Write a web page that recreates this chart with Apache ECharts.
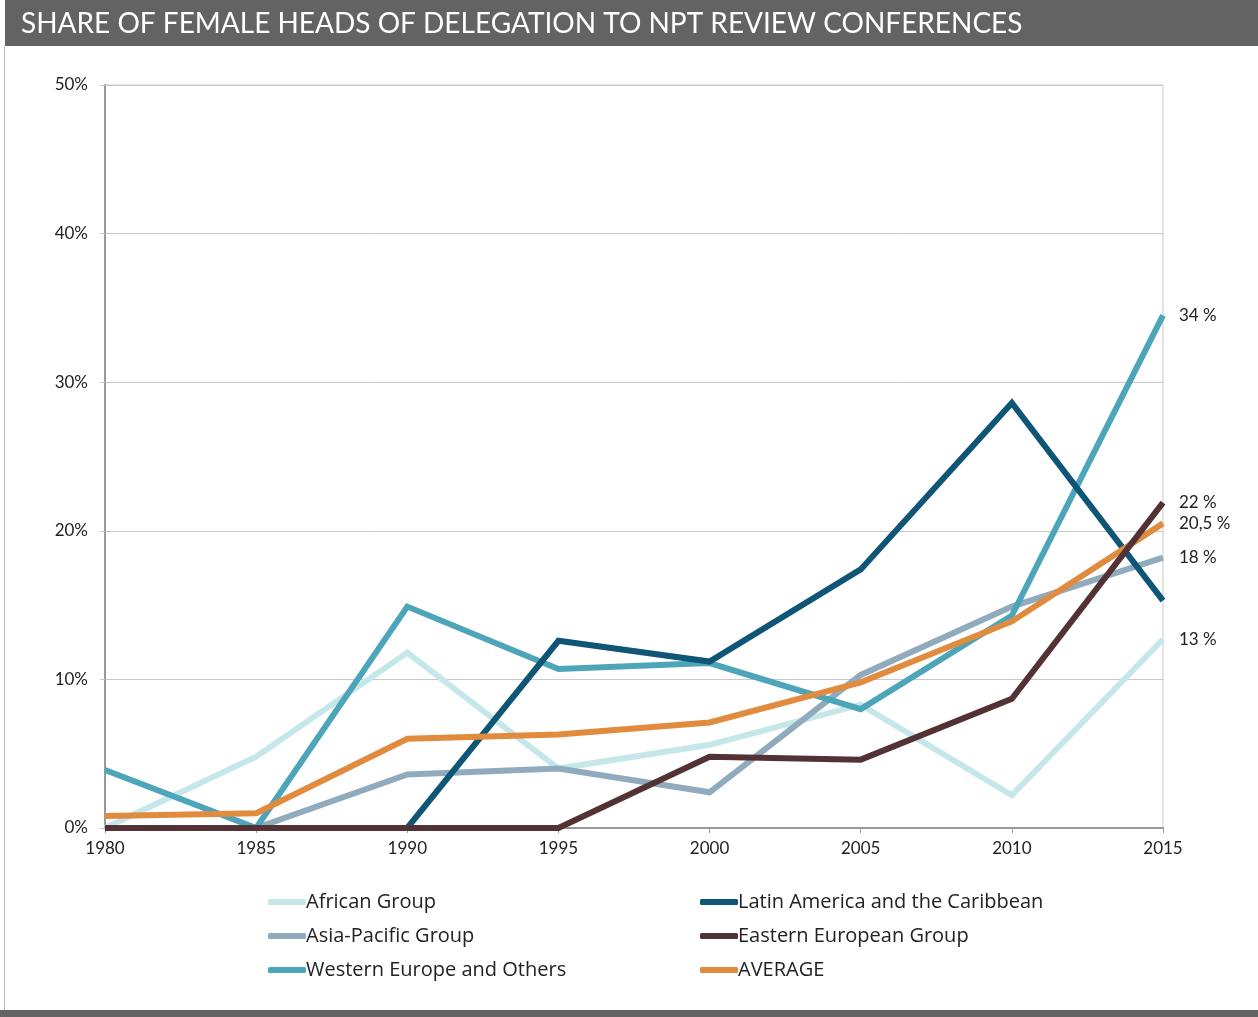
<!DOCTYPE html>
<html>
<head>
    <meta charset="UTF-8">
    <title>Share of female heads of delegation</title>
    <script src="https://cdn.jsdelivr.net/npm/echarts@6/dist/echarts.min.js"></script>
    <style>
        html, body {margin: 0; padding: 0; background: #fff;}
        #main {width: 1258px; height: 1017px;}
    </style>
</head>
<body>
<div id="main"></div>
<script type="text/javascript">
    var years = ['1980', '1985', '1990', '1995', '2000', '2005', '2010', '2015'];
    var african = [0, 4.8, 11.8, 4.0, 5.6, 8.3, 2.2, 12.7];
    var latinAmerica = [0, 0, 0, 12.6, 11.2, 17.4, 28.6, 15.3];
    var asiaPacific = [0, 0, 3.6, 4.0, 2.4, 10.3, 14.9, 18.2];
    var easternEurope = [0, 0, 0, 0, 4.8, 4.6, 8.7, 21.9];
    var westernEurope = [3.9, 0, 14.9, 10.7, 11.1, 8.0, 14.3, 34.5];
    var average = [0.8, 1.0, 6.0, 6.3, 7.1, 9.8, 13.9, 20.5];
    // labels printed at the right end of some lines
    var endText = {
        'African Group': '13 %',
        'Asia-Pacific Group': '18 %',
        'Eastern European Group': '22 %',
        'Western Europe and Others': '34 %',
        'AVERAGE': '20,5 %'
    };

    var font = 'Lato, "Open Sans", sans-serif';
    var legendFont = '"Open Sans", Lato, sans-serif';

    function line(name, data, color) {
        var s = {
            name: name,
            type: 'line',
            data: data,
            symbol: 'none',
            lineStyle: {width: 6, color: color, cap: 'butt', join: 'miter'},
            itemStyle: {color: color},
            emphasis: {disabled: true}
        };
        if (endText[name]) {
            s.endLabel = {
                show: true,
                formatter: endText[name],
                distance: 16,
                color: '#222',
                fontSize: 17,
                fontFamily: font
            };
        }
        return s;
    }

    var myChart = echarts.init(document.getElementById('main'));
    myChart.setOption({
        animation: false,
        title: {
            text: 'SHARE OF FEMALE HEADS OF DELEGATION TO NPT REVIEW CONFERENCES',
            left: 16,
            top: 5,
            textStyle: {color: '#fff', fontSize: 28, fontWeight: 'normal', fontFamily: font}
        },
        graphic: [
            {type: 'rect', z: -1, shape: {x: 5, y: 0, width: 1253, height: 46}, style: {fill: '#636363'}},
            {type: 'rect', z: -1, shape: {x: 0, y: 1010, width: 1258, height: 7}, style: {fill: '#636363'}},
            {type: 'rect', z: -1, shape: {x: 4, y: 46, width: 1, height: 964}, style: {fill: '#bdbdbd'}}
        ],
        grid: {
            left: 105, right: 95, top: 85, bottom: 189,
            show: true, borderColor: '#c8c8c8', borderWidth: 1
        },
        legend: [{
            orient: 'vertical',
            left: 263,
            top: 887,
            itemWidth: 38,
            itemHeight: 6,
            itemGap: 14,
            icon: 'roundRect',
            data: ['African Group', 'Asia-Pacific Group', 'Western Europe and Others'],
            textStyle: {color: '#222', fontSize: 20, fontFamily: legendFont, padding: [0, 0, 0, -5]}
        }, {
            orient: 'vertical',
            left: 695,
            top: 887,
            itemWidth: 38,
            itemHeight: 6,
            itemGap: 14,
            icon: 'roundRect',
            data: ['Latin America and the Caribbean', 'Eastern European Group', 'AVERAGE'],
            textStyle: {color: '#222', fontSize: 20, fontFamily: legendFont, padding: [0, 0, 0, -5]}
        }],
        xAxis: {
            type: 'category',
            data: years,
            boundaryGap: false,
            axisLine: {lineStyle: {color: '#999', width: 2}},
            axisTick: {show: true, length: 5, alignWithLabel: true, lineStyle: {color: '#999'}},
            axisLabel: {color: '#222', fontSize: 17, fontFamily: font, margin: 12},
            splitLine: {show: false}
        },
        yAxis: {
            type: 'value',
            min: 0,
            max: 50,
            interval: 10,
            axisLine: {show: true, lineStyle: {color: '#999', width: 2}},
            axisTick: {show: true, length: 5, lineStyle: {color: '#c8c8c8'}},
            axisLabel: {color: '#222', fontSize: 17, fontFamily: font, margin: 17, formatter: '{value}%'},
            splitLine: {lineStyle: {color: '#c8c8c8', width: 1}}
        },
        series: [
            line('African Group', african, '#c5e7e9'),
            line('Asia-Pacific Group', asiaPacific, '#8fabbd'),
            line('Western Europe and Others', westernEurope, '#4da5ba'),
            line('Latin America and the Caribbean', latinAmerica, '#0e5576'),
            line('AVERAGE', average, '#e08b3e'),
            line('Eastern European Group', easternEurope, '#523234')
        ]
    });
</script>
</body>
</html>
